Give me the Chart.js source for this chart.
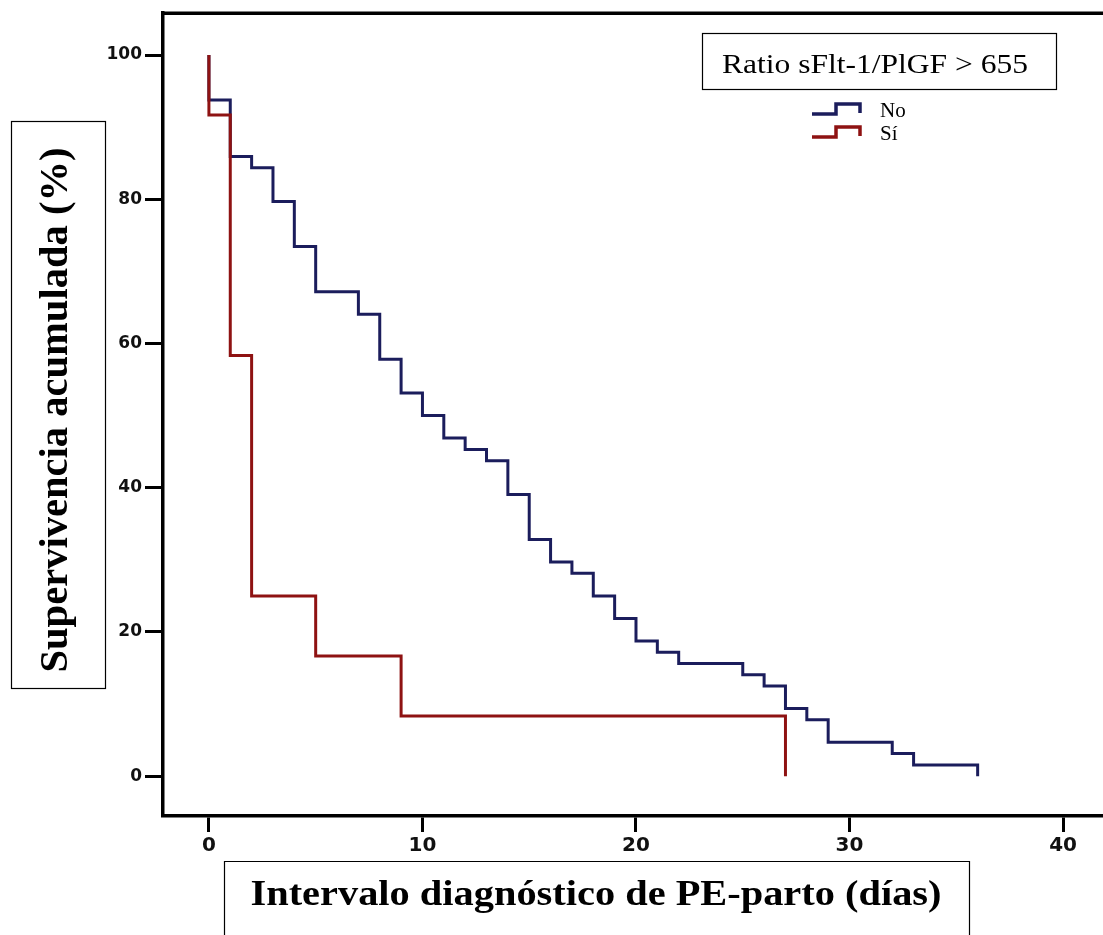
<!DOCTYPE html>
<html>
<head>
<meta charset="utf-8">
<script src="https://cdn.jsdelivr.net/npm/chart.js@4.4.1/dist/chart.umd.min.js"></script>
<style>
  body { margin: 0; background: #fff; }
  #wrap { width: 1103px; height: 935px; position: relative; }
</style>
</head>
<body>
<div id="wrap"><canvas id="chart"></canvas></div>
<script>
// Kaplan-Meier data
var seriesNames = ['No', 'Sí'];
var daysNo = [0, 0, 1, 2, 3, 4, 5, 7, 8, 9, 10, 11, 12, 13, 14, 15, 16, 17, 18, 19, 20, 21, 22, 25, 26, 27, 28, 29, 32, 33, 36];
var survNo = [100, 93.75, 85.94, 84.38, 79.69, 73.44, 67.19, 64.06, 57.81, 53.13, 50, 46.88, 45.31, 43.75, 39.06, 32.81, 29.69, 28.13, 25, 21.88, 18.75, 17.19, 15.63, 14.06, 12.5, 9.38, 7.81, 4.69, 3.13, 1.56, 0];
var daysSi = [0, 0, 1, 2, 5, 9, 27];
var survSi = [100, 91.67, 58.33, 25, 16.67, 8.33, 0];
var xTicks = [0, 10, 20, 30, 40];
var yTicks = [0, 20, 40, 60, 80, 100];

var legendTitle = 'Ratio sFlt-1/PlGF > 655';
var xTitle = 'Intervalo diagnóstico de PE-parto (días)';
var yTitle = 'Supervivencia acumulada (%)';

var blue = '#1b1d5c';
var red = '#8e1212';

function toPoints(xs, ys) {
  return xs.map(function (x, i) { return { x: x, y: ys[i] }; });
}

// draws text squeezed/stretched to a given width
function fitText(ctx, text, x, y, w) {
  var m = ctx.measureText(text).width;
  ctx.save();
  ctx.translate(x, y);
  ctx.scale(w / m, 1);
  ctx.fillText(text, 0, 0);
  ctx.restore();
}

function stepIcon(ctx, x, low, high, color) {
  ctx.strokeStyle = color;
  ctx.lineWidth = 3.5;
  ctx.beginPath();
  ctx.moveTo(x, low);
  ctx.lineTo(x + 24, low);
  ctx.lineTo(x + 24, high);
  ctx.lineTo(x + 48, high);
  ctx.lineTo(x + 48, low - 1);
  ctx.stroke();
}

var overlay = {
  id: 'overlay',
  afterDraw: function (chart) {
    var ctx = chart.ctx;
    var a = chart.chartArea;
    ctx.save();

    // top of frame
    ctx.strokeStyle = '#000';
    ctx.lineWidth = 3.5;
    ctx.beginPath();
    ctx.moveTo(a.left - 1.75, a.top);
    ctx.lineTo(a.right, a.top);
    ctx.stroke();

    ctx.fillStyle = '#000';
    ctx.lineWidth = 1.2;

    // y title box
    ctx.strokeRect(11.5, 121.5, 94, 567);
    ctx.save();
    ctx.translate(67, 410);
    ctx.rotate(-Math.PI / 2);
    ctx.font = 'bold 40px "Liberation Serif"';
    ctx.textAlign = 'center';
    ctx.textBaseline = 'alphabetic';
    fitText(ctx, yTitle, 0, 0, 525);
    ctx.restore();

    // x title box
    ctx.beginPath();
    ctx.moveTo(224.5, 940);
    ctx.lineTo(224.5, 861.5);
    ctx.lineTo(969.5, 861.5);
    ctx.lineTo(969.5, 940);
    ctx.stroke();
    ctx.font = 'bold 36px "Liberation Serif"';
    ctx.textAlign = 'center';
    fitText(ctx, xTitle, 596, 905, 691);

    // legend
    ctx.strokeRect(702.5, 33.5, 354, 56);
    ctx.font = '27px "Liberation Serif"';
    fitText(ctx, legendTitle, 875, 73, 306);

    stepIcon(ctx, 812, 114, 104, blue);
    stepIcon(ctx, 812, 137, 127, red);
    ctx.fillStyle = '#000';
    ctx.font = '21px "Liberation Serif"';
    ctx.textAlign = 'left';
    ctx.fillText(seriesNames[0], 880, 117);
    ctx.fillText(seriesNames[1], 880, 140);

    ctx.restore();
  }
};

var ctx = document.getElementById('chart').getContext('2d');

var data = {
  datasets: [
    {
      label: seriesNames[0],
      data: toPoints(daysNo, survNo),
      borderColor: blue,
      borderWidth: 3,
      stepped: true,
      showLine: true,
      pointRadius: 0,
      fill: false,
      order: 2
    },
    {
      label: seriesNames[1],
      data: toPoints(daysSi, survSi),
      borderColor: red,
      borderWidth: 3,
      stepped: true,
      showLine: true,
      pointRadius: 0,
      fill: false,
      order: 1
    }
  ]
};

var options = {
  responsive: true,
  maintainAspectRatio: false,
  animation: false,
  layout: { padding: { top: 10, right: 0, left: 0, bottom: 0 } },
  plugins: {
    legend: { display: false },
    tooltip: { enabled: false }
  },
  scales: {
    x: {
      type: 'linear',
      min: -2.15,
      max: 41.87,
      afterBuildTicks: function (s) { s.ticks = xTicks.map(function (v) { return { value: v }; }); },
      afterFit: function (s) { s.height = 119; },
      border: { color: '#000', width: 3.5 },
      grid: { drawOnChartArea: false, drawTicks: true, tickLength: 16, tickWidth: 3, tickColor: '#000' },
      ticks: {
        color: '#111',
        padding: 2,
        maxRotation: 0,
        font: { family: '"DejaVu Sans"', weight: 'bold', size: 20 }
      }
    },
    y: {
      type: 'linear',
      min: -5.52,
      max: 105.8,
      afterBuildTicks: function (s) { s.ticks = yTicks.map(function (v) { return { value: v }; }); },
      afterFit: function (s) { s.width = 163; },
      border: { color: '#000', width: 3.5 },
      grid: { drawOnChartArea: false, drawTicks: true, tickLength: 18, tickWidth: 3, tickColor: '#000' },
      ticks: {
        color: '#111',
        padding: 3,
        font: { family: '"DejaVu Sans"', weight: 'bold', size: 17 }
      }
    }
  }
};

var myChart = new Chart(ctx, {
  type: 'scatter',
  data: data,
  options: options,
  plugins: [overlay]
});
</script>
</body>
</html>
